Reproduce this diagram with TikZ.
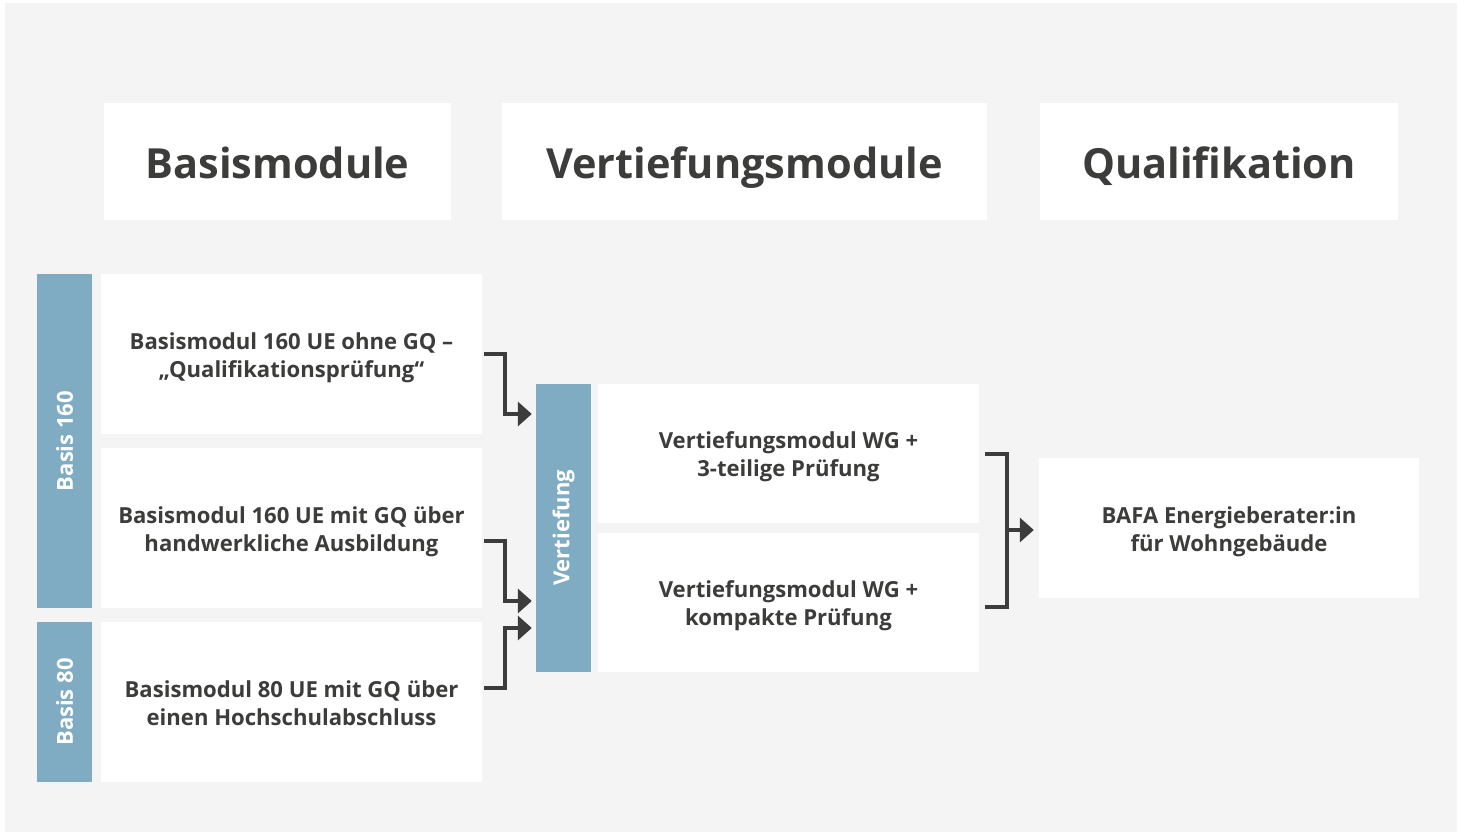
\documentclass[tikz,border=0pt]{standalone}
\usepackage{fontspec}
\setmainfont{Open Sans}
\usetikzlibrary{arrows.meta}
\definecolor{bggray}{HTML}{F4F4F4}
\definecolor{txtgray}{HTML}{3C3C3B}
\definecolor{barblue}{HTML}{7FACC2}
\definecolor{linegray}{HTML}{3C3C3C}
% struts for the first and last line of a box text
\newcommand{\topline}{\rule{0pt}{24pt}}
\newcommand{\botline}{\rule[-6pt]{0pt}{6pt}}

\tikzset{
  head/.style={fill=white, text=txtgray, inner sep=0pt,
    font=\bfseries\fontsize{41.5}{48}\selectfont, minimum height=117pt,
    text height=40pt, text depth=7pt},
  box/.style={fill=white, text=txtgray, inner sep=0pt, align=center,
    font=\bfseries\fontsize{22.1}{28}\selectfont, minimum width=381pt},
  bar/.style={fill=barblue, text=white, inner sep=0pt, rotate=90,
    font=\bfseries\fontsize{22}{24}\selectfont, minimum height=55pt},
  link/.style={draw=linegray, line width=4pt},
  arr/.style={link, -{Triangle[length=14pt,width=24pt]}},
}

\begin{document}
\begin{tikzpicture}[x=1pt, y=-1pt]

  \useasboundingbox (0,0) rectangle (1464,832);
  \fill[white] (0,0) rectangle (1464,832);
  \fill[bggray] (5,3) rectangle (1457,832);

  % headings
  \node[head, minimum width=347pt] (hbasis) at (277.5,161.5) {Basismodule};
  \node[head, minimum width=485pt] (hvert) at (744.5,161.5) {Vertiefungsmodule};
  \node[head, minimum width=358pt] (hqual) at (1219,161.5) {Qualifikation};

  % Basismodule
  \node[bar, minimum width=334pt] (b160) at (64.5,441) {Basis 160};
  \node[bar, minimum width=160pt] (b80) at (64.5,702) {Basis 80};
  \node[box, minimum height=160pt] (bm1) at (291.5,354)
    {\topline Basismodul 160 UE ohne GQ --\\„Qualifikationsprüfung“\botline};
  \node[box, minimum height=160pt] (bm2) at (291.5,528)
    {\topline Basismodul 160 UE mit GQ über\\handwerkliche Ausbildung\botline};
  \node[box, minimum height=160pt] (bm3) at (291.5,702)
    {\topline Basismodul 80 UE mit GQ über\\einen Hochschulabschluss\botline};

  % Vertiefungsmodule
  \node[bar, minimum width=288pt] (vbar) at (563.5,528) {Vertiefung};
  \node[box, minimum height=139pt] (vm1) at (788.5,453.5)
    {\topline Vertiefungsmodul WG +\\3-teilige Prüfung\botline};
  \node[box, minimum height=139pt] (vm2) at (788.5,602.5)
    {\topline Vertiefungsmodul WG +\\kompakte Prüfung\botline};

  % Qualifikation
  \node[box, minimum width=380pt, minimum height=140pt] (qual) at (1229,528)
    {\topline BAFA Energieberater:in\\für Wohngebäude\botline};

  % connectors
  \coordinate (j1) at (505,414);
  \coordinate (j2) at (505,601);
  \coordinate (j3) at (505,628);
  \coordinate (jq) at (1007,530);

  \draw[arr, shorten <=2pt, shorten >=4pt] (bm1.east) -| (j1) -- (j1 -| vbar.north); % bm1->vbar
  \draw[arr, shorten <=2pt, shorten >=4pt] ([yshift=-13pt]bm2.east) -| (j2) -- (j2 -| vbar.north); % bm2->vbar
  \draw[arr, shorten <=2pt, shorten >=4pt] ([yshift=14pt]bm3.east) -| (j3) -- (j3 -| vbar.north); % bm3->vbar

  \draw[link, shorten <=6pt, shorten >=6pt] (vm1.east) -| (jq) |- ([yshift=-4pt]vm2.east); % bracket
  \draw[arr, shorten >=5pt] (jq) -- (jq -| qual.west); % vm->qual

\end{tikzpicture}
\end{document}
